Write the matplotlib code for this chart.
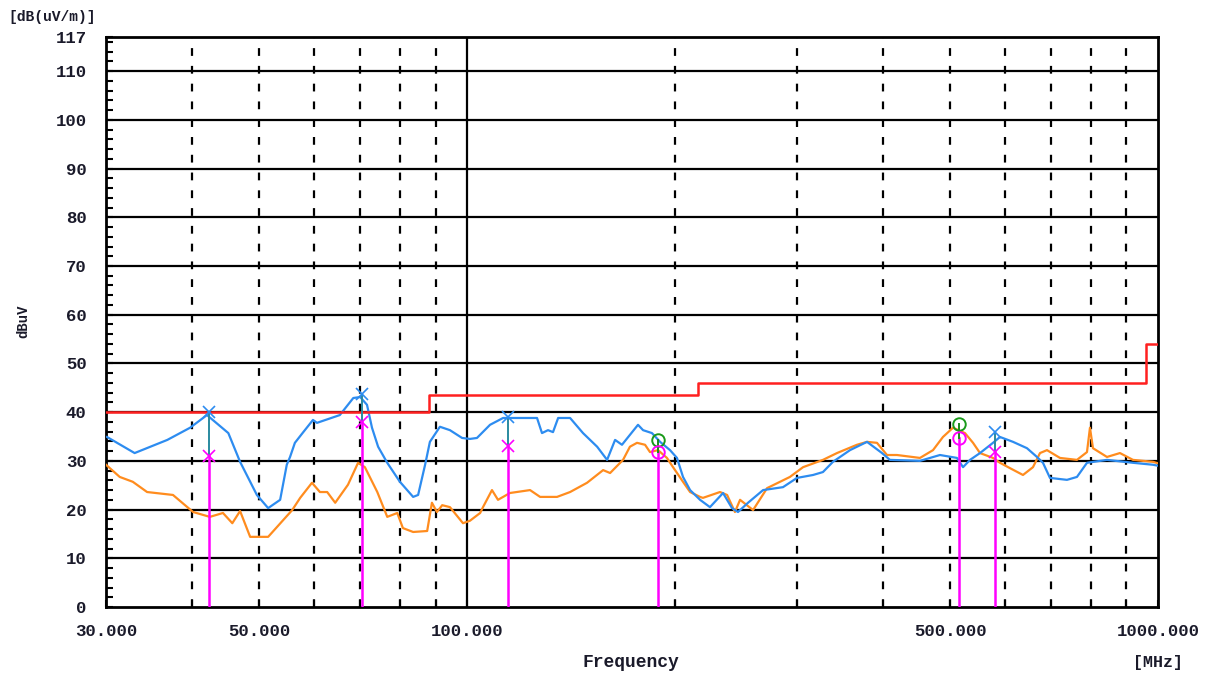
import matplotlib
matplotlib.use("Agg")
import matplotlib.pyplot as plt
import numpy as np

# limit line (steps)
limit_freq = [30, 88, 88, 216, 216, 960, 960, 1000]
limit_level = [40, 40, 43.5, 43.5, 46, 46, 54, 54]

# blue trace
blue_freq = [30.1, 33.0, 36.8, 39.7, 42.0, 45.1, 46.9, 49.6, 51.5, 53.6, 54.8, 55.4, 56.3, 57.9,
             59.8, 60.6, 65.4, 68.4, 70.0, 71.6, 72.8, 74.3, 76.6, 79.9, 83.5, 84.9, 86.9, 88.3,
             91.3, 94.4, 98.3, 100.9, 103.3, 107.9, 112.7, 126.2, 128.3, 130.9, 133.1, 135.4,
             140.9, 147.1, 154.2, 159.4, 163.7, 167.5, 176.7, 179.7, 185.1, 190.2, 196.6, 201.2,
             205.3, 210.2, 217.3, 224.6, 234.6, 241.7, 246.6, 255.0, 268.1, 286.5, 300.2, 316.7,
             327.3, 338.4, 358.2, 379.1, 398.5, 409.2, 452.3, 483.5, 511.7, 522.1, 534.4, 552.5,
             576.9, 590.6, 616.8, 646.1, 668.0, 681.5, 697.6, 738.3, 763.3, 789.2, 843.6, 920.0,
             983.3, 1000]
blue_level = [34.9, 31.6, 34.3, 36.8, 39.4, 35.7, 29.8, 23.0, 20.3, 22.0, 29.2, 30.8, 33.7, 35.9,
              38.4, 37.8, 39.4, 42.9, 43.1, 41.5, 36.8, 32.9, 29.6, 25.7, 22.6, 23.0, 29.2, 33.9,
              37.0, 36.3, 34.7, 34.5, 34.7, 37.4, 38.8, 38.8, 35.7, 36.3, 35.9, 38.8,
              38.8, 35.7, 32.9, 30.2, 34.3, 33.3, 37.4, 36.3, 35.7, 33.9, 32.2, 30.6,
              26.7, 24.0, 22.0, 20.5, 23.4, 20.3, 19.5, 21.4, 24.0, 24.6, 26.5, 27.1,
              27.7, 29.8, 32.2, 33.9, 31.6, 30.2, 30.0, 31.2, 30.6, 28.7, 30.2, 31.6,
              33.7, 34.9, 33.9, 32.6, 30.8, 29.6, 26.5, 26.1, 26.7, 29.6, 30.2, 29.6,
              29.2, 29.0]

# orange trace
orange_freq = [30.0, 31.4, 32.8, 34.4, 37.5, 40.1, 42.4, 44.3, 45.7, 46.9, 48.5, 51.5, 55.8, 57.3,
               59.6, 61.2, 62.7, 64.4, 67.2, 69.5, 71.1, 74.1, 76.6, 79.2, 80.7, 83.5, 87.5, 88.9,
               90.4, 92.0, 94.4, 98.6, 100.9, 104.4, 105.4, 108.6, 110.8, 115.3, 123.3, 127.5,
               134.9, 140.9, 149.1, 157.3, 161.0, 168.1, 172.0, 176.1, 180.9, 183.9, 188.9, 194.6,
               198.6, 205.3, 210.2, 217.3, 219.4, 232.2, 237.8, 244.1, 248.3, 259.3, 271.7, 293.2,
               306.3, 327.3, 343.0, 366.6, 379.1, 391.9, 405.2, 418.9, 452.3, 472.4, 488.3, 504.9,
               525.5, 539.8, 552.5, 576.9, 590.6, 610.6, 637.6, 659.2, 674.8, 690.7, 721.3, 763.3,
               789.2, 797.1, 805.1, 843.6, 880.9, 920.0, 983.3, 1000]
orange_level = [29.2, 26.7, 25.7, 23.6, 23.0, 19.5, 18.5, 19.3, 17.2, 19.7, 14.4, 14.4, 19.9, 22.4,
                25.5, 23.6, 23.6, 21.4, 25.1, 29.6, 28.7, 23.6, 18.5, 19.3, 16.2, 15.4, 15.6, 21.4,
                19.5, 20.9, 20.5, 17.2, 17.7, 19.3, 20.5, 24.0, 22.0, 23.4, 24.0, 22.6,
                22.6, 23.6, 25.5, 28.1, 27.5, 30.2, 32.9, 33.7, 33.3, 31.8, 32.2, 30.6,
                28.7, 25.7, 23.6, 22.6, 22.4, 23.6, 23.0, 19.5, 22.0, 19.9, 24.4, 26.7,
                28.7, 30.2, 31.6, 33.3, 33.9, 33.7, 31.2, 31.2, 30.6, 32.2, 34.9, 36.8,
                35.7, 33.7, 31.6, 30.6, 29.6, 28.5, 27.1, 28.7, 31.6, 32.2, 30.6, 30.2,
                31.8, 36.8, 32.6, 30.8, 31.6, 30.2, 29.8, 29.5]

# marker readings
x_freq = [42.3, 70.3, 114.5, 580.8]
x_peak = [40.0, 43.7, 39.0, 35.9]
x_qp = [31.0, 38.0, 33.1, 31.8]
o_freq = [188.9, 515.0]
o_peak = [34.3, 37.6]
o_qp = [31.8, 34.7]

dash_freqs = [40, 50, 60, 70, 80, 90, 200, 300, 400, 500, 600, 700, 800, 900]
ytick_vals = [0, 10, 20, 30, 40, 50, 60, 70, 80, 90, 100, 110, 117]
xtick_vals = [30, 50, 100, 500, 1000]
xtick_labels = ["30.000", "50.000", "100.000", "500.000", "1000.000"]

txt = dict(family="Liberation Mono", fontweight="bold", color="#1a1a2a")

fig = plt.figure(figsize=(12.16, 6.77), dpi=100)
ax = fig.add_axes([0.0872, 0.1034, 0.8651, 0.8419])
ax.set_xscale("log")
ax.set_xlim(30, 1000)
ax.set_ylim(0, 117)

# grid
for v in range(10, 117, 10):
    ax.axhline(v, color="black", lw=1.6, zorder=1)
for f in dash_freqs:
    ax.axvline(f, color="black", lw=1.6, linestyle=(0, (3.5, 4.5)), zorder=1)
ax.axvline(100, color="black", lw=1.6, zorder=1)

# traces
ax.plot(orange_freq, orange_level, color="#ff8c1e", lw=1.6, zorder=3)
ax.plot(blue_freq, blue_level, color="#2d8cf0", lw=1.6, zorder=4)
ax.plot(limit_freq, limit_level, color="#ff2020", lw=1.8, zorder=5)

# markers
for f, pk, qp in zip(x_freq, x_peak, x_qp):
    ax.plot([f, f], [0, qp], color="#ff00ff", lw=1.8, zorder=6)
    ax.plot([f, f], [qp, pk], color="#2a8aa0", lw=1.4, zorder=6)
ax.plot(x_freq, x_peak, "x", color="#2d8cf0", ms=9, mew=1.2, zorder=7)
ax.plot(x_freq, x_qp, "x", color="#ff00ff", ms=9, mew=1.2, zorder=7)
for f, pk, qp in zip(o_freq, o_peak, o_qp):
    ax.plot([f, f], [0, qp], color="#ff00ff", lw=1.8, zorder=6)
    ax.plot([f, f], [qp, pk], color="#1a8a1a", lw=1.4, zorder=6)
ax.plot(o_freq, o_peak, "o", mfc="none", mec="#1a9a1a", ms=9, mew=1.4, zorder=7)
ax.plot(o_freq, o_qp, "o", mfc="none", mec="#ff00ff", ms=9, mew=1.4, zorder=7)

# axes styling
for s in ax.spines.values():
    s.set_linewidth(2)
ax.set_yticks(ytick_vals)
ax.set_yticklabels([str(v) for v in ytick_vals], fontsize=12.5, **txt)
ax.set_yticks(np.arange(0, 117, 2), minor=True)
ax.set_xticks(xtick_vals)
ax.set_xticklabels(xtick_labels, fontsize=12.5, **txt)
ax.set_xticks(dash_freqs, minor=True)
ax.xaxis.set_minor_formatter(matplotlib.ticker.NullFormatter())
ax.tick_params(axis="both", which="both", direction="in", length=5, width=1.5)
ax.tick_params(axis="x", which="major", pad=12)
ax.tick_params(axis="y", which="major", pad=14)

fig.text(0.007, 0.975, "[dB(uV/m)]", fontsize=10.5, va="center", ha="left", **txt)
fig.text(0.019, 0.525, "dBuV", fontsize=10, rotation=90, va="center", ha="center", **txt)
fig.text(0.519, 0.021, "Frequency", fontsize=13, va="center", ha="center", **txt)
fig.text(0.952, 0.021, "[MHz]", fontsize=12, va="center", ha="center", **txt)

fig.savefig("out.png", dpi=100)
